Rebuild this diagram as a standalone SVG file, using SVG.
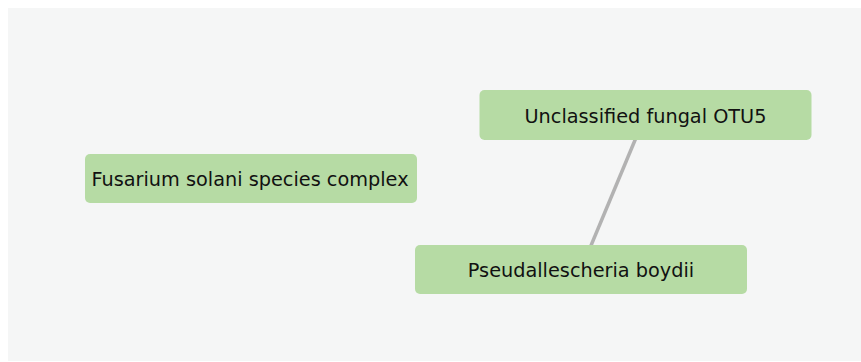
<svg xmlns="http://www.w3.org/2000/svg" width="861" height="362" viewBox="0 0 861 362">
  <style>
    .node rect { fill: #b6dba4; }
    .node text { font-family: "DejaVu Sans", "Verdana", sans-serif; font-size: 19.3px; fill: #111111; text-anchor: middle; }
    .edge { stroke: #b2b2b2; stroke-width: 3.5; stroke-linecap: butt; fill: none; }
  </style>
  <rect x="0" y="0" width="861" height="362" fill="#ffffff"/>
  <rect x="8" y="8" width="853" height="353" fill="#f5f6f6"/>
  <g id="connectors">
    <line class="edge" x1="645.5" y1="115" x2="581" y2="269.5"/>
  </g>
  <g id="node-otu5" class="node">
    <rect x="479.5" y="90" width="332" height="50" rx="5"/>
    <text x="645.5" y="122.7">Unclassified fungal OTU5</text>
  </g>
  <g id="node-fusarium" class="node">
    <rect x="85" y="154" width="332" height="49" rx="5"/>
    <text x="250" y="185.7">Fusarium solani species complex</text>
  </g>
  <g id="node-pseudallescheria" class="node">
    <rect x="415" y="245" width="332" height="49" rx="5"/>
    <text x="581" y="276.7">Pseudallescheria boydii</text>
  </g>
</svg>
